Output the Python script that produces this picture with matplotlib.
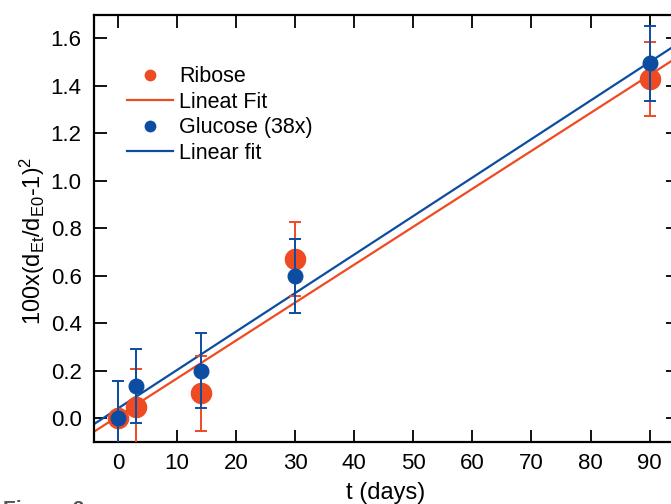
import matplotlib
matplotlib.use('Agg')
import matplotlib.pyplot as plt
from matplotlib.lines import Line2D
import numpy as np

plt.rcParams['font.family'] = ['Liberation Sans', 'DejaVu Sans']
plt.rcParams['mathtext.fontset'] = 'custom'
plt.rcParams['mathtext.rm'] = 'Liberation Sans'
plt.rcParams['mathtext.it'] = 'Liberation Sans'

RED = '#EE4B22'
BLUE = '#0C4DA2'

# Ribose
t_rib = [0, 3, 14, 30, 90]
y_rib = [0.0, 0.049, 0.105, 0.67, 1.428]
e_rib = [0.157, 0.157, 0.157, 0.157, 0.156]

# Glucose (38x)
t_glu = [0, 3, 14, 30, 90]
y_glu = [0.0, 0.136, 0.200, 0.600, 1.495]
e_glu = [0.157, 0.157, 0.157, 0.156, 0.158]

# linear fits: intercept, slope
fit_rib = (0.008, 0.01597)
fit_glu = (0.041, 0.01621)

x_ticks = [0, 10, 20, 30, 40, 50, 60, 70, 80, 90]
y_ticks = [0.0, 0.2, 0.4, 0.6, 0.8, 1.0, 1.2, 1.4, 1.6]

fig = plt.figure(figsize=(6.71, 5.04), dpi=100)
ax = fig.add_axes([94 / 671, 1 - 442 / 504, 584 / 671, 427 / 504])

xx = np.array([-10, 110])
ax.plot(xx, fit_rib[0] + fit_rib[1] * xx, color=RED, lw=1.6, zorder=2)
ax.plot(xx, fit_glu[0] + fit_glu[1] * xx, color=BLUE, lw=1.6, zorder=2)

ax.errorbar(t_rib, y_rib, yerr=e_rib, fmt='o', color=RED, mec=RED, ms=14.5,
            elinewidth=1.4, capsize=4, capthick=1.4, zorder=3)
ax.errorbar(t_glu, y_glu, yerr=e_glu, fmt='o', color=BLUE, mec=BLUE, ms=10.5,
            elinewidth=1.4, capsize=4, capthick=1.4, zorder=4)

ax.set_xlim(-4.05, 94.8)
ax.set_ylim(-0.1, 1.698)
ax.set_xticks(x_ticks)
ax.set_yticks(y_ticks)
ax.set_yticklabels([f'{v:.1f}' for v in y_ticks])
ax.tick_params(direction='in', length=9, width=1.3, labelsize=16,
               top=True, right=True)
ax.tick_params(axis='y', pad=9)
ax.tick_params(axis='x', pad=8)
for s in ax.spines.values():
    s.set_linewidth(1.6)

ax.set_xlabel('t (days)', fontsize=17, labelpad=6)
ax.set_ylabel(r'100x$\left(\mathregular{d_{Et}/d_{E0}}\text{-}\mathregular{1}\right)^{\mathregular{2}}$',
              fontsize=17)
ax.yaxis.set_label_coords(-0.08, 0.47)

handles = [
    Line2D([], [], ls='none', marker='o', ms=8.5, color=RED, mew=0),
    Line2D([], [], color=RED, lw=1.6),
    Line2D([], [], ls='none', marker='o', ms=8.5, color=BLUE, mew=0),
    Line2D([], [], color=BLUE, lw=1.6),
]
labels = ['Ribose', 'Lineat Fit', 'Glucose (38x)', 'Linear fit']
ax.legend(handles, labels, loc='upper left', bbox_to_anchor=(0.041, 0.9),
          frameon=False, fontsize=15.5, handlelength=2.15, handletextpad=0.28,
          labelspacing=0.21, borderaxespad=0)

fig.text(0.005, -0.03, 'Figure 2', fontsize=15, fontweight='bold', color='#555555',
         va='bottom', ha='left')

fig.savefig('out.png', dpi=100)
